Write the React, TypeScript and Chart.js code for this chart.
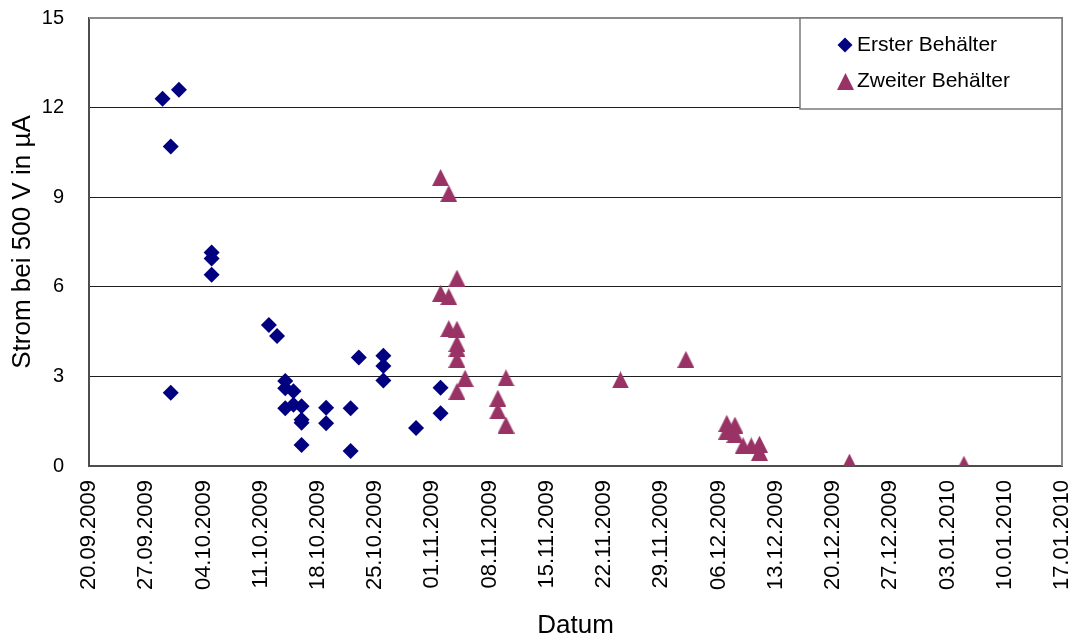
import React, { useEffect, useRef } from 'react';
import { Chart, registerables } from 'chart.js';

Chart.register(...registerables);

// Measurement dates and currents (µA at 500 V) for both containers
const firstDates = [
  '2009-09-29', '2009-10-01', '2009-09-30', '2009-09-30',
  '2009-10-05', '2009-10-05', '2009-10-05',
  '2009-10-12', '2009-10-13',
  '2009-10-14', '2009-10-14', '2009-10-14',
  '2009-10-15', '2009-10-15',
  '2009-10-16', '2009-10-16', '2009-10-16', '2009-10-16',
  '2009-10-19', '2009-10-19',
  '2009-10-22', '2009-10-22', '2009-10-23',
  '2009-10-26', '2009-10-26', '2009-10-26',
  '2009-10-30', '2009-11-02', '2009-11-02',
];
const firstValues = [
  12.3, 12.6, 10.7, 2.45,
  7.15, 6.95, 6.4,
  4.72, 4.35,
  2.85, 2.6, 1.93,
  2.5, 2.05,
  2.0, 1.55, 1.45, 0.7,
  1.95, 1.43,
  1.93, 0.5, 3.63,
  3.69, 3.35, 2.86,
  1.27, 2.62, 1.77,
];

const secondDates = [
  '2009-11-02', '2009-11-02',
  '2009-11-03', '2009-11-03', '2009-11-03',
  '2009-11-04', '2009-11-04', '2009-11-04', '2009-11-04', '2009-11-04', '2009-11-04',
  '2009-11-05',
  '2009-11-09', '2009-11-09',
  '2009-11-10', '2009-11-10',
  '2009-11-24', '2009-12-02',
  '2009-12-07', '2009-12-07',
  '2009-12-08', '2009-12-08',
  '2009-12-09', '2009-12-10',
  '2009-12-11', '2009-12-11',
  '2009-12-22', '2010-01-05',
];
const secondValues = [
  9.66, 5.78,
  9.12, 5.67, 4.6,
  6.29, 4.58, 4.1, 3.94, 3.57, 2.5,
  2.94,
  2.27, 1.85,
  2.95, 1.37,
  2.88, 3.57,
  1.43, 1.17,
  1.37, 1.06,
  0.68, 0.67,
  0.73, 0.46,
  0.13, 0.06,
];

const seriesLabels = ['Erster Behälter', 'Zweiter Behälter'];
const seriesColors = ['#000080', '#993366'];

// Weekly date ticks on the x axis
const xTickDates = [
  '2009-09-20', '2009-09-27', '2009-10-04', '2009-10-11', '2009-10-18', '2009-10-25',
  '2009-11-01', '2009-11-08', '2009-11-15', '2009-11-22', '2009-11-29', '2009-12-06',
  '2009-12-13', '2009-12-20', '2009-12-27', '2010-01-03', '2010-01-10', '2010-01-17',
];
const yTickValues = [0, 3, 6, 9, 12, 15];

const FONT = '"Liberation Sans", Arial, sans-serif';
const DAY_MS = 86400000;
const originMs = Date.parse(xTickDates[0] + 'T00:00:00Z');
const toDay = (iso: string) => (Date.parse(iso + 'T00:00:00Z') - originMs) / DAY_MS;
const pad2 = (n: number) => (n < 10 ? '0' + n : String(n));
const formatDay = (day: number) => {
  const d = new Date(originMs + Math.round(day) * DAY_MS);
  return `${pad2(d.getUTCDate())}.${pad2(d.getUTCMonth() + 1)}.${d.getUTCFullYear()}`;
};

function makeTriangle(size: number, color: string): HTMLCanvasElement {
  const c = document.createElement('canvas');
  c.width = size;
  c.height = size;
  const g = c.getContext('2d')!;
  g.fillStyle = color;
  g.beginPath();
  g.moveTo(size / 2, 0);
  g.lineTo(size, size);
  g.lineTo(0, size);
  g.closePath();
  g.fill();
  return c;
}

// Gray frame on the top and right edge of the plot area
const framePlugin = {
  id: 'plotFrame',
  beforeDatasetsDraw(chart: any) {
    const { ctx, chartArea: a } = chart;
    ctx.save();
    ctx.strokeStyle = '#8a8a8a';
    ctx.lineWidth = 2;
    ctx.beginPath();
    ctx.moveTo(a.left, a.top);
    ctx.lineTo(a.right, a.top);
    ctx.lineTo(a.right, a.bottom);
    ctx.stroke();
    ctx.restore();
  },
};

// Boxed legend in the upper right corner of the plot area
const legendBoxPlugin = {
  id: 'legendBox',
  afterDatasetsDraw(chart: any) {
    const { ctx, chartArea: a } = chart;
    const w = 262;
    const h = 91;
    const x0 = a.right - w;
    const y0 = a.top;
    ctx.save();
    ctx.fillStyle = '#ffffff';
    ctx.fillRect(x0, y0, w, h);
    ctx.strokeStyle = '#7a7a7a';
    ctx.lineWidth = 1.5;
    ctx.strokeRect(x0, y0, w, h);
    ctx.font = `21px ${FONT}`;
    ctx.textBaseline = 'middle';
    ctx.textAlign = 'left';
    chart.data.datasets.forEach((ds: any, i: number) => {
      const cy = y0 + 27 + i * 36;
      const mx = x0 + 45;
      const style = ds.pointStyle;
      if (style instanceof HTMLCanvasElement) {
        ctx.drawImage(style, Math.round(mx - style.width / 2), Math.round(cy - style.height / 2));
      } else {
        const r = 7.5;
        ctx.fillStyle = ds.backgroundColor;
        ctx.beginPath();
        ctx.moveTo(mx - r, cy);
        ctx.lineTo(mx, cy - r);
        ctx.lineTo(mx + r, cy);
        ctx.lineTo(mx, cy + r);
        ctx.closePath();
        ctx.fill();
      }
      ctx.fillStyle = '#000000';
      ctx.fillText(ds.label, x0 + 57, cy);
    });
    ctx.restore();
  },
};

export default function App() {
  const canvasRef = useRef<HTMLCanvasElement | null>(null);

  useEffect(() => {
    if (!canvasRef.current) return;
    const toPoints = (dates: string[], values: number[]) =>
      dates.map((d, i) => ({ x: toDay(d), y: values[i] }));

    const chart = new Chart(canvasRef.current, {
      type: 'scatter',
      data: {
        datasets: [
          {
            label: seriesLabels[0],
            data: toPoints(firstDates, firstValues),
            pointStyle: 'rectRot',
            pointRadius: 8,
            backgroundColor: seriesColors[0],
            borderWidth: 0,
          },
          {
            label: seriesLabels[1],
            data: toPoints(secondDates, secondValues),
            pointStyle: makeTriangle(17, seriesColors[1]),
            pointRadius: 8,
            backgroundColor: seriesColors[1],
            borderWidth: 0,
          },
        ],
      },
      plugins: [framePlugin, legendBoxPlugin],
      options: {
        responsive: false,
        animation: false,
        events: [],
        layout: { padding: { top: 18, right: 9, left: 0, bottom: 0 } },
        plugins: {
          legend: { display: false },
          tooltip: { enabled: false },
        },
        scales: {
          x: {
            type: 'linear',
            min: toDay(xTickDates[0]),
            max: toDay(xTickDates[xTickDates.length - 1]),
            afterBuildTicks: (s: any) => {
              s.ticks = xTickDates.map((d) => ({ value: toDay(d) }));
            },
            afterFit: (s: any) => {
              s.height = 173;
              s.paddingLeft = 0;
              s.paddingRight = 0;
            },
            grid: { display: false, drawTicks: false },
            border: { display: true, color: '#4d4d4d', width: 2 },
            ticks: {
              minRotation: 90,
              maxRotation: 90,
              autoSkip: false,
              padding: 14,
              color: '#000',
              font: { family: FONT, size: 22 },
              callback: (v: any) => formatDay(Number(v)),
            },
            title: {
              display: true,
              text: 'Datum',
              color: '#000',
              font: { family: FONT, size: 26, lineHeight: 1 },
              padding: { top: 0, bottom: 0 },
            },
          },
          y: {
            type: 'linear',
            min: 0,
            max: 15,
            afterBuildTicks: (s: any) => {
              s.ticks = yTickValues.map((v) => ({ value: v }));
            },
            afterFit: (s: any) => {
              s.width = 89;
              s.paddingTop = 0;
              s.paddingBottom = 0;
            },
            grid: {
              drawTicks: false,
              lineWidth: 1,
              color: (c: any) =>
                c.tick && (c.tick.value === 0 || c.tick.value === 15) ? 'rgba(0,0,0,0)' : '#1e1e1e',
            },
            border: { display: true, color: '#4d4d4d', width: 2 },
            ticks: {
              padding: 25,
              color: '#000',
              font: { family: FONT, size: 20 },
            },
            title: {
              display: true,
              text: 'Strom bei 500 V in µA',
              color: '#000',
              font: { family: FONT, size: 26, lineHeight: 1 },
              padding: { top: 10, bottom: 0 },
            },
          },
        },
      },
    });
    return () => chart.destroy();
  }, []);

  return (
    <div style={{ position: 'fixed', left: 0, top: 0, width: 1071, height: 639, background: '#fff' }}>
      <canvas ref={canvasRef} width={1071} height={639} style={{ display: 'block' }} />
    </div>
  );
}
